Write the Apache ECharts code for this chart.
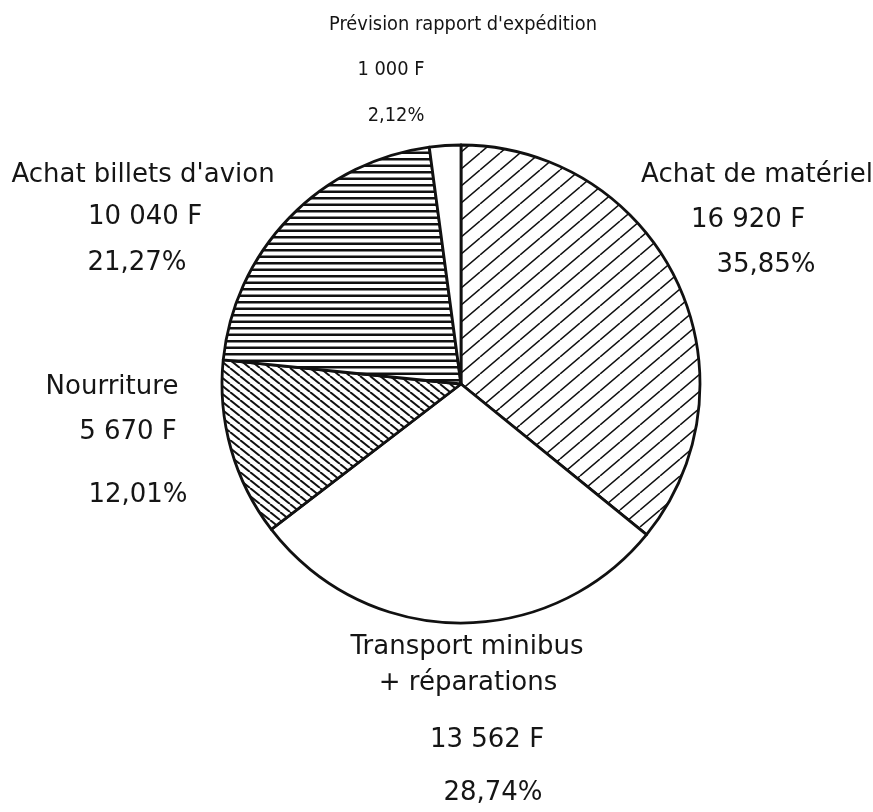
<!DOCTYPE html>
<html><head><meta charset="utf-8">
<script src="https://cdn.jsdelivr.net/npm/echarts@6/dist/echarts.min.js"></script>
<style>html,body{margin:0;padding:0;background:#fff}#chart{width:873px;height:812px}</style>
</head><body><div id="chart"></div>
<script>
// ---- data ----
const categories = ['Achat de matériel', 'Transport minibus\n+ réparations', 'Nourriture', "Achat billets d'avion", "Prévision rapport d'expédition"];
const amounts = [16920, 13562, 5670, 10040, 1000];
const currency = 'F';

// ---- layout / style ----
const pieCenter = [461, 384];
const pieRadius = 239;
const labelLineCenters = [
  [[757, 175], [748, 220], [766, 265]],
  [[467, 647], [468, 683], [487, 740], [493, 793]],
  [[112, 387], [128, 432], [138, 495]],
  [[143, 175], [145, 217], [137, 263]],
  [[463, 25], [391, 70], [396, 116]]
];
const fontFamily = "'DejaVu Sans', Verdana, sans-serif";
const ink = '#151515';

// pick a narrow face for the top label if one is installed, sized to the reference width
const measureCtx = document.createElement('canvas').getContext('2d');
function textWidth(font, txt) { measureCtx.font = font; return measureCtx.measureText(txt).width; }
function hasFont(name) {
  const probe = "Prévision rapport d'expédition 0123";
  return textWidth("100px '" + name + "', monospace", probe) !== textWidth('100px monospace', probe);
}
let narrowFamily = fontFamily;
for (const f of ['DejaVu Sans Condensed', 'Liberation Sans Narrow']) {
  if (hasFont(f)) { narrowFamily = "'" + f + "', " + fontFamily; break; }
}
const topTitleWidth = 268;
const topSize = Math.min(22, 100 * topTitleWidth / textWidth('100px ' + narrowFamily, categories[4]));
const labelFontSize = [26, 26, 26, 26, topSize];
const labelFamily = [fontFamily, fontFamily, fontFamily, fontFamily, narrowFamily];

function hatch(w, h, type, lw, n) {
  const c = document.createElement('canvas');
  c.width = w; c.height = h;
  const ctx = c.getContext('2d');
  ctx.fillStyle = '#fff'; ctx.fillRect(0, 0, w, h);
  ctx.strokeStyle = '#111'; ctx.lineWidth = lw;
  ctx.beginPath();
  if (type === 'h') {
    for (let k = 0; k < n; k++) { const y = (k + 0.5) * h / n; ctx.moveTo(0, y); ctx.lineTo(w, y); }
  } else if (type === '/') {
    for (const k of [-1, 0, 1]) { ctx.moveTo(k * w, h); ctx.lineTo(k * w + w, 0); }
  } else {
    for (const k of [-1, 0, 1]) { ctx.moveTo(k * w, 0); ctx.lineTo(k * w + w, h); }
  }
  ctx.stroke();
  return c;
}
const fills = [
  { image: hatch(20, 17, '/', 1.5), repeat: 'repeat' },
  '#ffffff',
  { image: hatch(10, 8, '\\', 2.0), repeat: 'repeat' },
  { image: hatch(8, 13, 'h', 2.5, 2), repeat: 'repeat' },
  '#ffffff'
];

const total = amounts.reduce((a, b) => a + b, 0);
const fmtAmount = v => String(v).replace(/\B(?=(\d{3})+(?!\d))/g, ' ') + ' ' + currency;
const fmtPct = v => (v / total * 100).toFixed(2).replace('.', ',') + '%';
const labelTexts = categories.map((c, i) => c.split('\n').concat([fmtAmount(amounts[i]), fmtPct(amounts[i])]));

// rich styles + block anchors derived from line centres
const rich = {};
const anchors = [];
labelLineCenters.forEach((lines, i) => {
  const X = lines.reduce((s, p) => s + p[0], 0) / lines.length;
  const lh0 = labelFontSize[i] * 1.4;
  let b = lines[0][1] - lh0 / 2;
  const top = b;
  lines.forEach((p, j) => {
    const lh = 2 * (p[1] - b);
    b = b + lh;
    const d = p[0] - X;
    rich['b' + i + 'l' + j] = {
      fontSize: labelFontSize[i], fontFamily: labelFamily[i], color: ink,
      lineHeight: lh, align: 'center',
      padding: [0, Math.max(0, -2 * d), 0, Math.max(0, 2 * d)]
    };
  });
  anchors.push([X, top]);
});

const chart = echarts.init(document.getElementById('chart'), null, { renderer: 'canvas' });
chart.setOption({
  backgroundColor: '#ffffff',
  animation: false,
  series: [{
    type: 'pie',
    center: pieCenter,
    radius: pieRadius,
    startAngle: 90,
    clockwise: true,
    avoidLabelOverlap: false,
    silent: true,
    itemStyle: { borderColor: '#111', borderWidth: 2.8 },
    label: {
      show: true,
      position: 'outside',
      fontFamily: fontFamily,
      color: ink,
      formatter: p => labelTexts[p.dataIndex].map((t, j) => '{b' + p.dataIndex + 'l' + j + '|' + t + '}').join('\n'),
      rich: rich
    },
    labelLine: { show: false },
    labelLayout: p => ({ x: anchors[p.dataIndex][0], y: anchors[p.dataIndex][1], align: 'center', verticalAlign: 'top' }),
    data: categories.map((c, i) => ({ name: c, value: amounts[i], itemStyle: { color: fills[i] } }))
  }]
});
</script></body></html>
